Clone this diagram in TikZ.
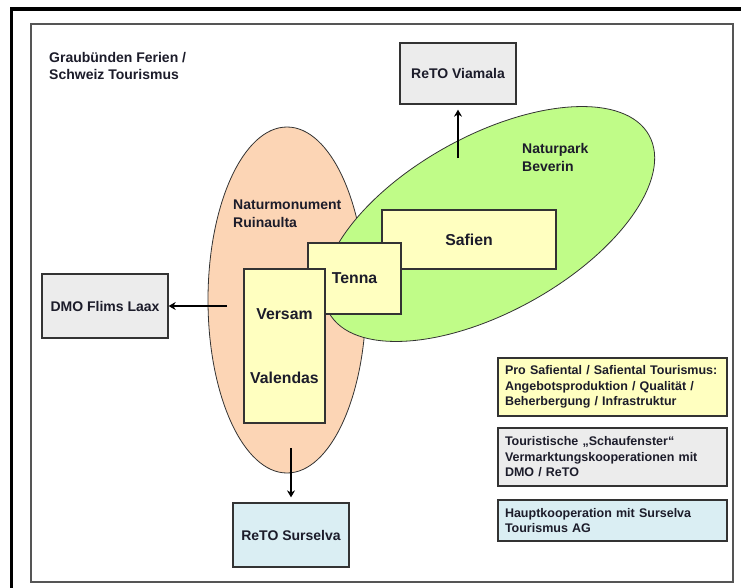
\documentclass[tikz,border=0pt]{standalone}
\usepackage{fontspec}
\setmainfont{Liberation Sans}
\usepackage{tikz}
\usetikzlibrary{shapes.geometric, arrows.meta}
\definecolor{PeachFill}{HTML}{FCD5B5}
\definecolor{LimeFill}{HTML}{C0FC88}
\definecolor{PaleYellow}{HTML}{FFFFC0}
\definecolor{PaleGray}{HTML}{ECECEC}
\definecolor{PaleBlue}{HTML}{DAEEF3}
\definecolor{EdgeGray}{HTML}{333333}
\definecolor{FrameGray}{HTML}{555555}
\definecolor{TextDark}{HTML}{1C1C2A}
\tikzset{
  retobox/.style={rectangle, draw=EdgeGray, line width=1.3pt, text=TextDark, font=\fontsize{14}{17}\selectfont\bfseries, inner sep=0pt},
  placebox/.style={rectangle, draw=EdgeGray, line width=1.3pt, fill=PaleYellow, text=TextDark, font=\fontsize{15.8}{18}\selectfont\bfseries, align=center, inner sep=0pt},
  legendbox/.style={rectangle, draw=EdgeGray, line width=1.3pt, text=TextDark, font=\fontsize{12.5}{15.5}\selectfont\bfseries, align=left, text width=215pt, inner xsep=7pt, inner ysep=0pt},
  areashape/.style={ellipse, draw=EdgeGray, line width=0.8pt, inner sep=0pt},
  arealabel/.style={anchor=west, align=left, inner sep=0pt, text=TextDark, font=\fontsize{14}{18}\selectfont\bfseries},
  arrow/.style={-{Stealth[length=7pt,width=8pt]}, line width=2pt, black}
}

\begin{document}
\begin{tikzpicture}[x=1pt, y=-1pt]
  \useasboundingbox (0,0) rectangle (741,587);
  \fill[white] (0,0) rectangle (741,587);

  % Frames
  \draw[line width=3.5pt, black] (11.5,9) rectangle (742.5,600);
  \draw[line width=1.3pt, FrameGray] (31,24) rectangle (733,582);

  \node[arealabel, font=\fontsize{14}{16.6}\selectfont\bfseries] (title) at (49,66) {Graubünden Ferien /\\Schweiz Tourismus};

  % Areas
  \node[areashape, fill=PeachFill, minimum width=158pt, minimum height=346pt] (ruinaulta) at (287,300) {};
  \node[areashape, fill=LimeFill, minimum width=366pt, minimum height=176pt, rotate=29] (beverin) at (489,224) {};
  \node[arealabel] (ruinlabel) at (233,214) {Naturmonument\\Ruinaulta};
  \node[arealabel] (bevlabel) at (522,157.5) {Naturpark\\Beverin};

  % Places
  \node[placebox, minimum width=174pt, minimum height=59pt] (safien) at (469,239.5) {Safien};
  \node[placebox, minimum width=93pt, minimum height=71pt] (tenna) at (354.5,278.5) {Tenna};
  \node[placebox, minimum width=81pt, minimum height=154pt] (versam) at (284.5,346) {Versam\\[46pt]Valendas};

  % Partners
  \node[retobox, fill=PaleGray, minimum width=116pt, minimum height=61pt] (viamala) at (458,73.5) {ReTO Viamala};
  \node[retobox, fill=PaleGray, minimum width=126pt, minimum height=64pt] (dmo) at (105,306) {DMO Flims Laax};
  \node[retobox, fill=PaleBlue, minimum width=116pt, minimum height=64pt] (surselva) at (291,535) {ReTO Surselva};

  \coordinate (bevtop) at (458,158);
  \coordinate (ruinwest) at (227,306);
  \coordinate (ruinsouth) at (291,448);
  \draw[arrow, shorten >=5pt] (bevtop) -- (viamala);
  \draw[arrow] (ruinwest) -- (dmo);
  \draw[arrow, shorten >=5pt] (ruinsouth) -- (surselva);

  % Legend
  \node[legendbox, fill=PaleYellow, minimum height=58pt] (legplace) at (612.5,387) {Pro Safiental / Safiental Tourismus:\\Angebotsproduktion / Qualität /\\Beherbergung / Infrastruktur};
  \node[legendbox, fill=PaleGray, minimum height=58pt] (legshow) at (612.5,457) {Touristische „Schaufenster“\\Vermarktungskooperationen mit\\DMO / ReTO};
  \node[legendbox, fill=PaleBlue, minimum height=41pt] (legmain) at (612.5,520.5) {Hauptkooperation mit Surselva\\Tourismus AG};
\end{tikzpicture}
\end{document}
